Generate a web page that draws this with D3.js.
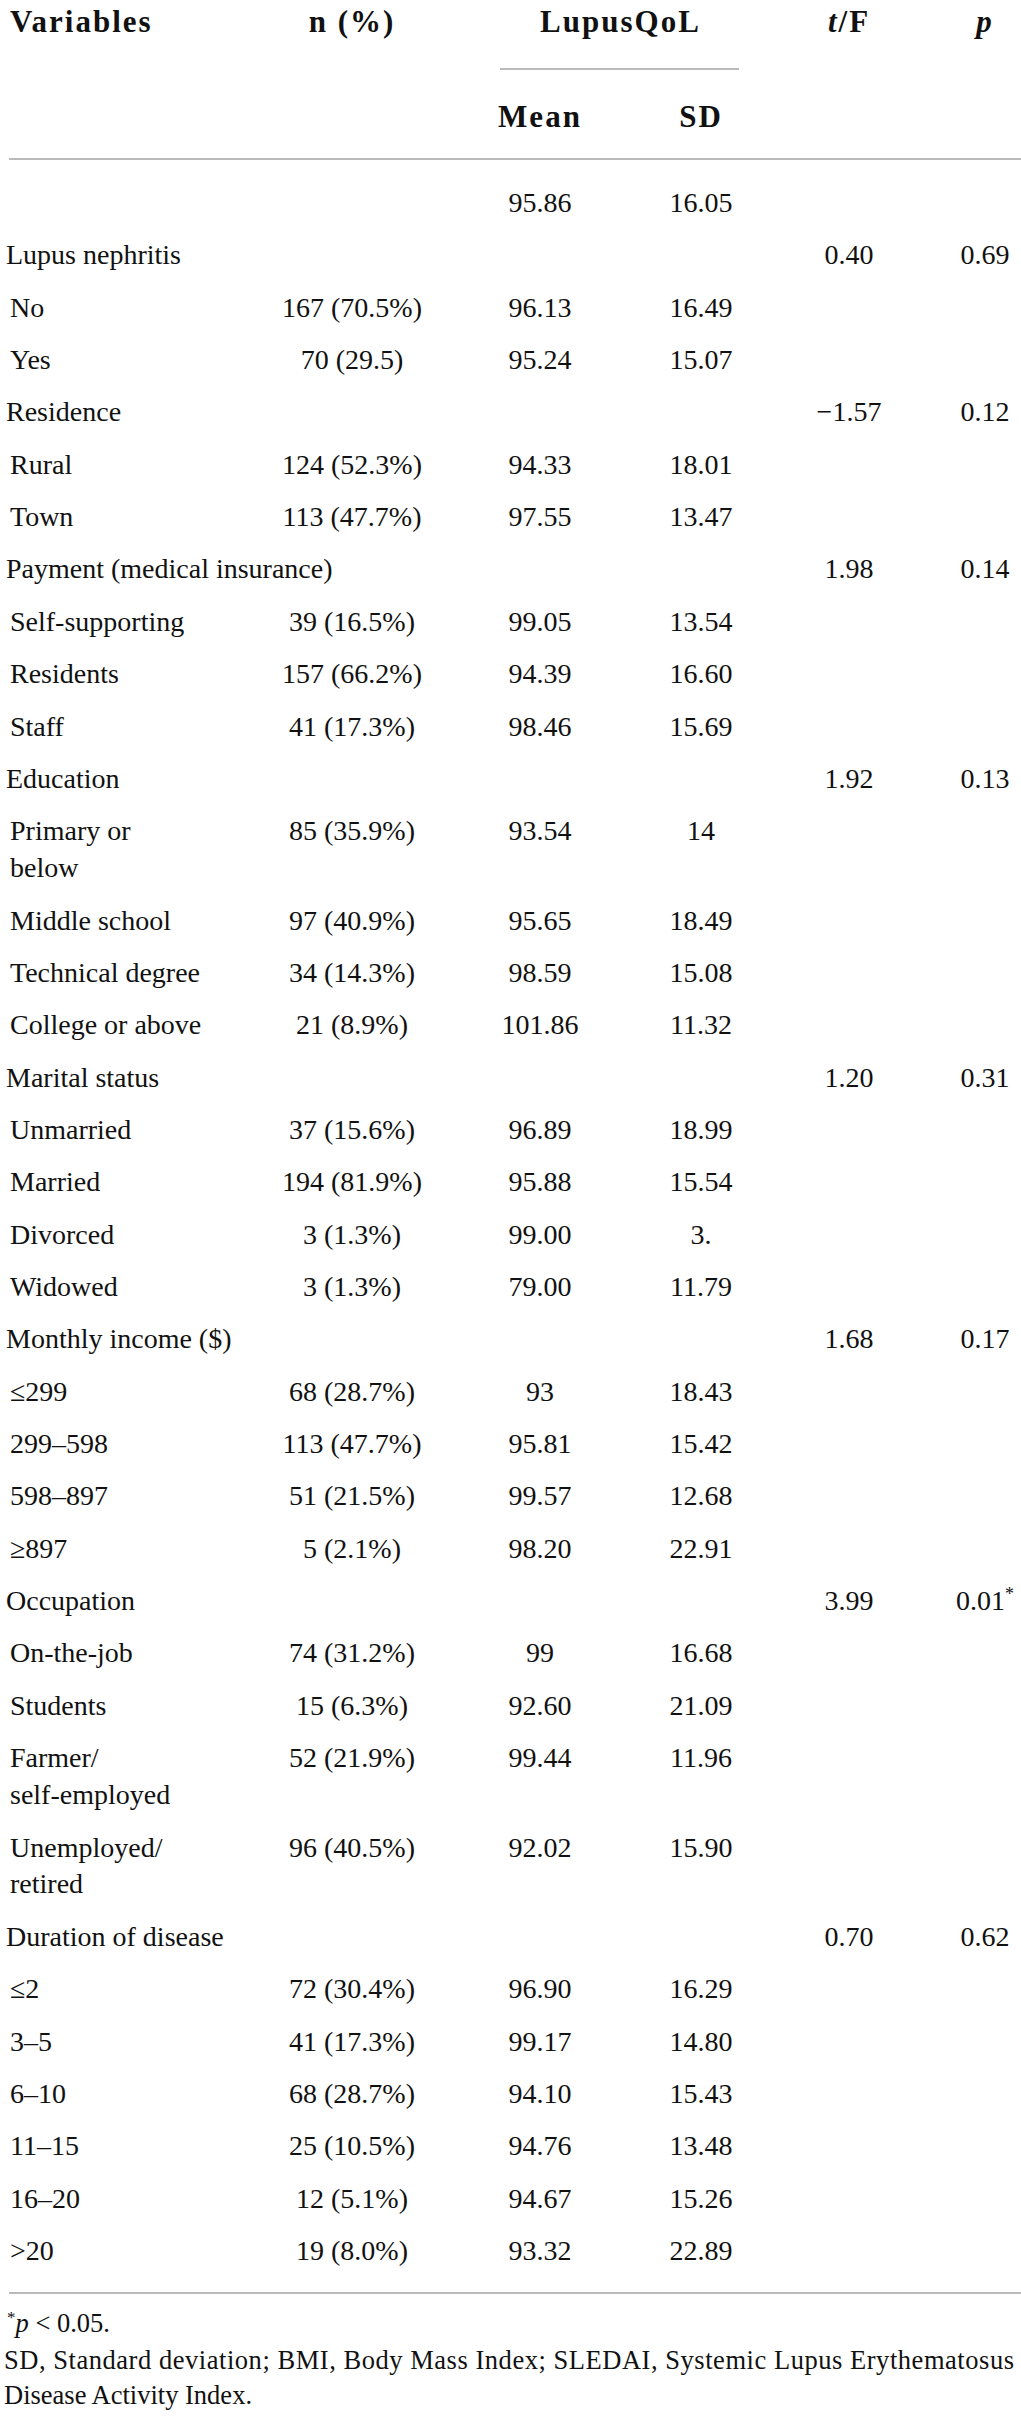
<!DOCTYPE html>
<html>
<head>
<meta charset="utf-8">
<script src="https://cdn.jsdelivr.net/npm/d3@7"></script>
<style>
  body { margin: 0; background: #fff; }
  svg text { font-family: "Liberation Serif", "Times New Roman", serif; fill: #111; }
</style>
</head>
<body>
<script>
// table rows, one entry per row ("\n" = second line in the cell)
const labels = ["", "Lupus nephritis", "No", "Yes", "Residence", "Rural", "Town",
  "Payment (medical insurance)", "Self-supporting", "Residents", "Staff",
  "Education", "Primary or\nbelow", "Middle school", "Technical degree", "College or above",
  "Marital status", "Unmarried", "Married", "Divorced", "Widowed",
  "Monthly income ($)", "≤299", "299–598", "598–897", "≥897",
  "Occupation", "On-the-job", "Students", "Farmer/\nself-employed", "Unemployed/\nretired",
  "Duration of disease", "≤2", "3–5", "6–10", "11–15", "16–20", ">20"]

const categories = ["Lupus nephritis", "Residence", "Payment (medical insurance)", "Education",
  "Marital status", "Monthly income ($)", "Occupation", "Duration of disease"]

const nPct = ["", "", "167 (70.5%)", "70 (29.5)", "", "124 (52.3%)", "113 (47.7%)",
  "", "39 (16.5%)", "157 (66.2%)", "41 (17.3%)",
  "", "85 (35.9%)", "97 (40.9%)", "34 (14.3%)", "21 (8.9%)",
  "", "37 (15.6%)", "194 (81.9%)", "3 (1.3%)", "3 (1.3%)",
  "", "68 (28.7%)", "113 (47.7%)", "51 (21.5%)", "5 (2.1%)",
  "", "74 (31.2%)", "15 (6.3%)", "52 (21.9%)", "96 (40.5%)",
  "", "72 (30.4%)", "41 (17.3%)", "68 (28.7%)", "25 (10.5%)", "12 (5.1%)", "19 (8.0%)"]

const means = ["95.86", "", "96.13", "95.24", "", "94.33", "97.55",
  "", "99.05", "94.39", "98.46",
  "", "93.54", "95.65", "98.59", "101.86",
  "", "96.89", "95.88", "99.00", "79.00",
  "", "93", "95.81", "99.57", "98.20",
  "", "99", "92.60", "99.44", "92.02",
  "", "96.90", "99.17", "94.10", "94.76", "94.67", "93.32"]

const sds = ["16.05", "", "16.49", "15.07", "", "18.01", "13.47",
  "", "13.54", "16.60", "15.69",
  "", "14", "18.49", "15.08", "11.32",
  "", "18.99", "15.54", "3.", "11.79",
  "", "18.43", "15.42", "12.68", "22.91",
  "", "16.68", "21.09", "11.96", "15.90",
  "", "16.29", "14.80", "15.43", "13.48", "15.26", "22.89"]

const tfValues = ["", "0.40", "", "", "−1.57", "", "",
  "1.98", "", "", "",
  "1.92", "", "", "", "",
  "1.20", "", "", "", "",
  "1.68", "", "", "", "",
  "3.99", "", "", "", "",
  "0.70", "", "", "", "", "", ""]

const pValues = ["", "0.69", "", "", "0.12", "", "",
  "0.14", "", "", "",
  "0.13", "", "", "", "",
  "0.31", "", "", "", "",
  "0.17", "", "", "", "",
  "0.01*", "", "", "", "",
  "0.62", "", "", "", "", "", ""]

const footnotes = ["SD, Standard deviation; BMI, Body Mass Index; SLEDAI, Systemic Lupus Erythematosus",
  "Disease Activity Index."]

// sizes
const width = 1021
const height = 2419
const fontSize = 28
const headSize = 31
const lineGap = 0.707   // extra row units for a second line in a cell

// column centers
const xCol = d3.scaleOrdinal()
  .domain(["n", "mean", "sd", "tf", "p"])
  .range([352, 540, 701, 849, 985])

// row units -> baseline y
const yRow = d3.scaleLinear([0, 1], [212, 264.35])

const rows = labels.map((label, i) => ({
  label: label,
  lines: label.split("\n"),
  isCat: categories.includes(label),
  n: nPct[i], mean: means[i], sd: sds[i], tf: tfValues[i], p: pValues[i]
}))
let u = 0
rows.forEach(r => {
  r.y = yRow(u)
  u += 1 + (r.lines.length - 1) * lineGap
})

const svg = d3.select("body")
  .append("svg")
  .attr("width", width)
  .attr("height", height)

// header
const head = svg.append("g")
  .attr("font-weight", "bold")
  .attr("font-size", headSize)
  .attr("letter-spacing", 2)

head.append("text").attr("x", 10).attr("y", 32).text("Variables")
head.append("text").attr("x", xCol("n")).attr("y", 32).attr("text-anchor", "middle").text("n (%)")
head.append("text").attr("x", (xCol("mean") + xCol("sd")) / 2).attr("y", 32).attr("text-anchor", "middle").text("LupusQoL")
const tfHead = head.append("text").attr("x", xCol("tf")).attr("y", 32).attr("text-anchor", "middle")
tfHead.append("tspan").attr("font-style", "italic").text("t")
tfHead.append("tspan").text("/F")
head.append("text").attr("x", xCol("p")).attr("y", 32).attr("text-anchor", "middle")
  .attr("font-style", "italic").text("p")
head.append("text").attr("x", xCol("mean")).attr("y", 127).attr("text-anchor", "middle").text("Mean")
head.append("text").attr("x", xCol("sd")).attr("y", 127).attr("text-anchor", "middle").text("SD")

// rules
const rules = [
  {x1: 500, x2: 739, y: 69},
  {x1: 9, x2: width, y: 159},
  {x1: 9, x2: width, y: 2293}
]
svg.selectAll("line.rule")
  .data(rules)
  .enter()
  .append("line")
  .attr("class", "rule")
  .attr("x1", d => d.x1)
  .attr("x2", d => d.x2)
  .attr("y1", d => d.y)
  .attr("y2", d => d.y)
  .attr("stroke", "#a3a3a3")
  .attr("stroke-width", 1.6)

// body rows
const body = svg.append("g").attr("font-size", fontSize)

const rowG = body.selectAll("g.row")
  .data(rows)
  .enter()
  .append("g")
  .attr("class", "row")
  .attr("transform", d => `translate(0, ${d.y})`)

rowG.append("text")
  .attr("x", d => d.isCat ? 6 : 10)
  .selectAll("tspan")
  .data(d => d.lines.map((t, k) => ({t, k, x: d.isCat ? 6 : 10})))
  .enter()
  .append("tspan")
  .attr("x", d => d.x)
  .attr("y", d => d.k * 36.9)
  .text(d => d.t)

const cols = ["n", "mean", "sd", "tf"]
cols.forEach(c => {
  rowG.filter(d => d[c] !== "")
    .append("text")
    .attr("x", xCol(c))
    .attr("text-anchor", "middle")
    .text(d => d[c])
})

// p column, with superscript star
const pText = rowG.filter(d => d.p !== "")
  .append("text")
  .attr("x", xCol("p"))
  .attr("text-anchor", "middle")
pText.append("tspan").text(d => d.p.replace("*", ""))
pText.filter(d => d.p.includes("*"))
  .append("tspan")
  .attr("font-size", 18)
  .attr("dy", -10)
  .text("*")

// footnotes
const foot = svg.append("g").attr("font-size", 26.5)
const star = foot.append("text").attr("x", 7).attr("y", 2332)
star.append("tspan").attr("font-size", 17).attr("dy", -9).text("*")
star.append("tspan").attr("font-style", "italic").attr("dy", 9).text("p")
star.append("tspan").text(" < 0.05.")

foot.selectAll("text.note")
  .data(footnotes)
  .enter()
  .append("text")
  .attr("class", "note")
  .attr("x", 4)
  .attr("y", (d, i) => 2369 + i * 35)
  .attr("textLength", (d, i) => i === 0 ? 1010 : null)
  .attr("lengthAdjust", "spacing")
  .text(d => d)
</script>
</body>
</html>
